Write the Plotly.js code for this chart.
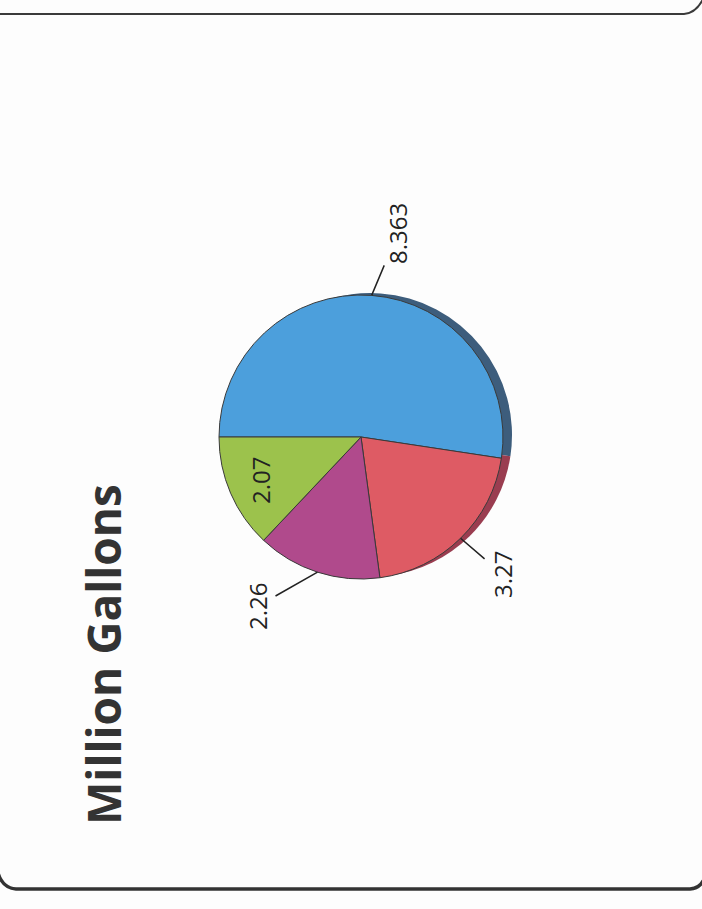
<!DOCTYPE html>
<html>
<head>
<meta charset="utf-8">
<script src="https://cdn.plot.ly/plotly-3.0.1.min.js"></script>
<style>
  html, body { margin:0; padding:0; width:702px; height:909px; overflow:hidden; background:#fdfdfd; }
  #wrap { position:absolute; left:0; top:0; width:909px; height:702px;
          transform-origin:0 0; transform:translate(0px, 909px) rotate(-90deg); }
</style>
</head>
<body>
<div id="wrap"><div id="chart"></div></div>
<script>
// ---- data ----
const categories = ['Slice 1', 'Slice 2', 'Slice 3', 'Slice 4'];
const values = [8.363, 3.27, 2.26, 2.07];
const labelTexts = values.map(v => String(v));
const chartTitle = 'Million Gallons';

// ---- styles / layout ----
const W = 909, H = 702;
const colors = ['#4c9fdc', '#de5b64', '#b04a8c', '#9cc24c'];
const shadowColors = ['#3d5d7c', '#9a3d50', '#6e2f58', '#5f7a2e'];
const domX = [(472 - 142) / W, (472 + 142) / W];
const domY = [1 - (361 + 142) / H, 1 - (361 - 142) / H];
const shadowShift = 9 / H;
// text offset (pixels) of each outside label from its slice edge point; null = inside
const labelOffsets = [[62, 26], [-36, 42], [-34, -60], null];
const insideFactor = 0.77;

const shadow = {
  type: 'pie', values: values, labels: categories, sort: false,
  direction: 'clockwise', rotation: 0, textinfo: 'none', hoverinfo: 'skip',
  marker: { colors: shadowColors, line: { width: 0 } },
  domain: { x: [domX[0] + 2 / W, domX[1] + 2 / W], y: [domY[0] - shadowShift, domY[1] - shadowShift] }
};
const pie = {
  type: 'pie', values: values, labels: categories, sort: false,
  direction: 'clockwise', rotation: 0, textinfo: 'none', hoverinfo: 'label+value',
  marker: { colors: colors, line: { color: '#3a3a3a', width: 1 } },
  domain: { x: domX, y: domY }
};

// label placement computed from the data (slice mid-angles)
const total = values.reduce((a, b) => a + b, 0);
const cx = (domX[0] + domX[1]) / 2 * W;
const cy = (1 - (domY[0] + domY[1]) / 2) * H;
const r = Math.min((domX[1] - domX[0]) * W, (domY[1] - domY[0]) * H) / 2;
const annotations = [];
let cum = 0;
values.forEach((v, i) => {
  const mid = (cum + v / 2) / total * 2 * Math.PI;
  cum += v;
  const off = labelOffsets[i];
  const rr = off ? r : r * insideFactor;
  const u = cx + rr * Math.sin(mid);
  const w = cy - rr * Math.cos(mid);
  const a = {
    x: u / W, y: 1 - w / H, xref: 'paper', yref: 'paper',
    text: labelTexts[i], font: { family: 'Open Sans', size: 24, color: '#222' }
  };
  if (off) {
    Object.assign(a, { showarrow: true, arrowhead: 0, arrowwidth: 1.5, arrowcolor: '#222',
      ax: off[0], ay: off[1], standoff: 0 });
  } else {
    a.showarrow = false;
  }
  annotations.push(a);
});

function P(u, v) { return (u / W).toFixed(5) + ',' + (1 - v / H).toFixed(5); }
const shapes = [
  { type: 'path', xref: 'paper', yref: 'paper',
    path: 'M' + P(895, -5) + ' L' + P(895, 684) + ' Q' + P(896, 697) + ' ' + P(912, 704),
    line: { color: '#3a3a3a', width: 2 } },
  { type: 'path', xref: 'paper', yref: 'paper',
    path: 'M' + P(40, -3) + ' Q' + P(21, 1) + ' ' + P(20, 16) + ' L' + P(20, 690) + ' Q' + P(21, 701) + ' ' + P(32, 705),
    line: { color: '#333333', width: 3.5 } }
];

const layout = {
  width: W, height: H,
  margin: { l: 0, r: 0, t: 0, b: 0 },
  paper_bgcolor: '#fdfdfd',
  showlegend: false,
  title: { text: chartTitle, x: 84 / W, xanchor: 'left', xref: 'paper',
           y: 1 - 105 / H, yanchor: 'middle', yref: 'container',
           font: { family: 'Open Sans', size: 46, color: '#333333', weight: 'bold' } },
  annotations: annotations,
  shapes: shapes
};

Plotly.newPlot('chart', [shadow, pie], layout, { displayModeBar: false, staticPlot: true });
</script>
</body>
</html>
